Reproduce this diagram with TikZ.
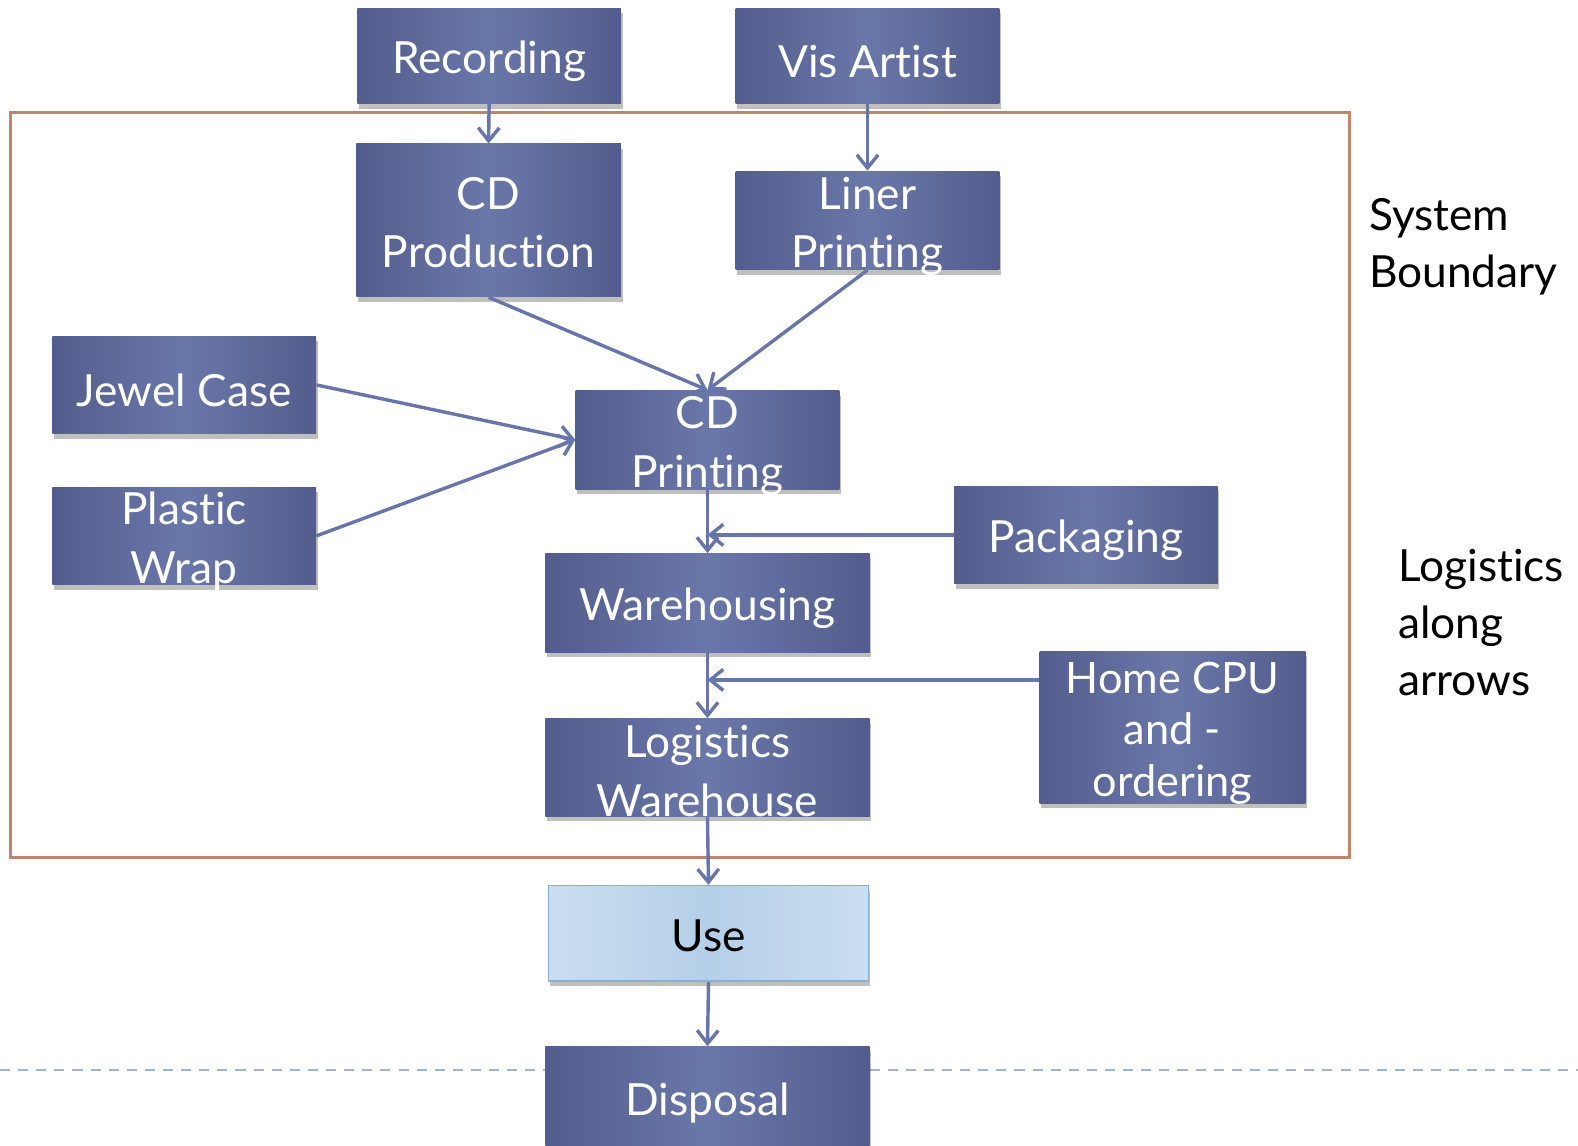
\documentclass[tikz,border=0pt]{standalone}
\usepackage{fontspec}
\setmainfont{Lato}[Ligatures={NoCommon}]
\usetikzlibrary{arrows.meta,shadows,calc}
\definecolor{boxA}{HTML}{535D8D}
\definecolor{boxB}{HTML}{6A77A9}
\definecolor{arrowc}{HTML}{6775AC}
\definecolor{bound}{HTML}{BF8470}
\definecolor{dashc}{HTML}{9FB4D0}
\definecolor{useA}{HTML}{CADEF0}
\definecolor{useB}{HTML}{B5CFE8}
\definecolor{useE}{HTML}{8EAED0}
\begin{document}
\begin{tikzpicture}[x=0.5pt,y=-0.5pt,
  lift/.style={execute at begin node={\rule{0pt}{#1}}},
  multi/.style={text height=#1, text depth=0pt},
  box/.style={left color=boxA, right color=boxA, middle color=boxB,
    drop shadow={shadow xshift=0.8pt, shadow yshift=-2.5pt, opacity=0.25, fill=black},
    text=white, font=\fontsize{22}{29}\selectfont, align=center, inner sep=0pt},
  onebox/.style={box, lift=22pt},
  usebox/.style={left color=useA, right color=useA, middle color=useB, draw=useE, line width=0.8pt,
    drop shadow={shadow xshift=0.8pt, shadow yshift=-2.5pt, opacity=0.25, fill=black},
    text=black, font=\fontsize{22}{29}\selectfont, align=center, inner sep=0pt,
    lift=18pt},
  conn/.style={draw=arrowc, line width=1.7pt, -{Straight Barb[length=6.5pt,width=10.5pt,line width=1.7pt]}},
  side/.style={anchor=north west, align=left, font=\fontsize{22}{28.5}\selectfont, text=black, inner sep=0pt}
]
\useasboundingbox (0,0) rectangle (1568,1138);

% dashed page line
\draw[dashc, line width=0.8pt, dash pattern=on 5pt off 4pt] (0,1063) -- (1568,1063);
% system boundary
\draw[bound, line width=1.5pt] (10,112) rectangle (1341,852);

% nodes
\node[onebox, minimum width=131pt, minimum height=47.5pt] (rec) at (486,55.5) {Recording};
\node[onebox, minimum width=131pt, minimum height=47.5pt] (vis) at (862,55.5) {Vis Artist};
\node[box, multi=47.3pt, minimum width=131.5pt, minimum height=76pt] (cdprod) at (485.5,219) {CD\\Production};
\node[box, multi=47pt, minimum width=131pt, minimum height=49pt] (liner) at (862,219) {Liner\\Printing};
\node[onebox, minimum width=131pt, minimum height=48.5pt] (jewel) at (183,382.5) {Jewel Case};
\node[box, multi=47pt, minimum width=131pt, minimum height=49pt] (cdprint) at (703,437) {CD\\Printing};
\node[box, multi=47pt, minimum width=131pt, minimum height=48.5pt] (plastic) at (183,532.5) {Plastic\\Wrap};
\node[onebox, minimum width=131pt, minimum height=48.5pt] (pack) at (1079,531.5) {Packaging};
\node[onebox, minimum width=161pt, minimum height=49pt] (wareh) at (703,599) {Warehousing};
\node[box, multi=68.5pt, minimum width=132pt, minimum height=75.5pt, font=\fontsize{21.5}{25.5}\selectfont] (homecpu) at (1165,722.5) {Home CPU\\and -\\ordering};
\node[box, multi=48.5pt, minimum width=161pt, minimum height=48.5pt] (logw) at (703,762.5) {Logistics\\Warehouse};
\node[usebox, minimum width=159pt, minimum height=47.5pt] (use) at (704,927.5) {Use};
\node[onebox, minimum width=161pt, minimum height=50pt] (disp) at (703,1090) {Disposal};

% side labels
\node[side] (sysb) at (1360,196.5) {System\\Boundary};
\node[side] (logi) at (1389,545) {Logistics\\along\\arrows};

% connectors
\coordinate (hc) at ($(homecpu.north west)+(0,29)$);
\draw[conn] (rec.south) -- (cdprod.north);
\draw[conn] (vis.south) -- (liner.north);
\draw[conn] (cdprod.south) -- (cdprint.north);
\draw[conn] (liner.south) -- (cdprint.north);
\draw[conn] (jewel.east) -- (cdprint.west);
\draw[conn] (plastic.east) -- (cdprint.west);
\draw[conn] (cdprint.south) -- (wareh.north);
\draw[conn] (pack.west) -- (cdprint.south |- pack.west);
\draw[conn] (wareh.south) -- (logw.north);
\draw[conn] (hc) -- (wareh.south |- hc);
\draw[conn] (logw.south) -- (use.north);
\draw[conn] (use.south) -- (disp.north);
\end{tikzpicture}
\end{document}
